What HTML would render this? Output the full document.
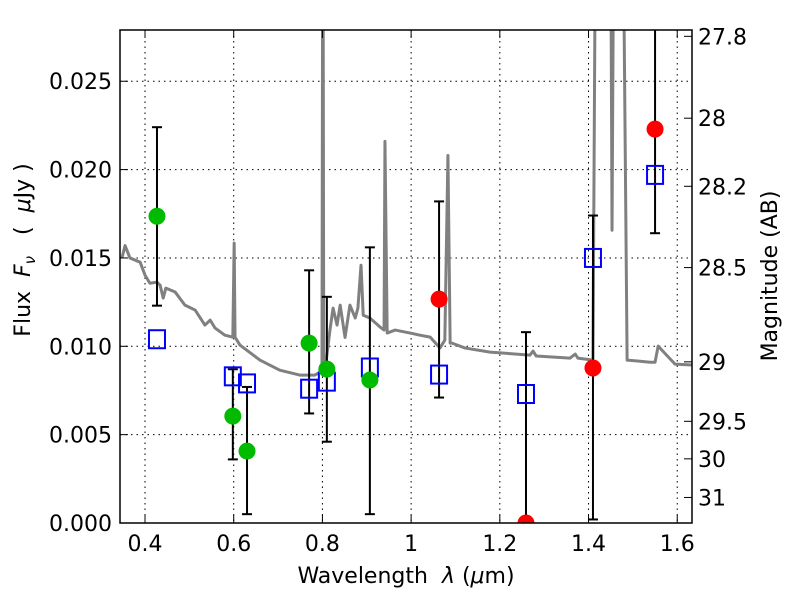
<!DOCTYPE html>
<html><head><meta charset="utf-8"><style>
body{margin:0;background:#fff;}
svg text{font-family:"DejaVu Sans","Liberation Sans",sans-serif;fill:#000;}
</style></head><body>
<svg id="chart" width="800" height="600" viewBox="0 0 800 600" xmlns="http://www.w3.org/2000/svg">
<rect width="800" height="600" fill="#fff"/>
<g id="grid"></g>
<g id="spec"></g>
<g id="marks"></g>
<rect x="120" y="30" width="572" height="493" fill="none" stroke="#000" stroke-width="1.5"/>
<g id="axes"></g>
<text x="406" y="583" font-size="22" text-anchor="middle">Wavelength&#160;&#160;<tspan font-style="italic">λ</tspan> (<tspan font-style="italic">μ</tspan>m)</text>
<text transform="translate(30,250) rotate(-90)" font-size="22" text-anchor="middle">Flux&#160;&#160;<tspan font-style="italic">F</tspan><tspan font-style="italic" font-size="15" dy="5">ν</tspan><tspan dy="-5">&#160;&#160;&#160;(&#160;&#160;</tspan><tspan font-style="italic">μ</tspan>Jy )</text>
<text transform="translate(777,276) rotate(-90)" font-size="22" text-anchor="middle">Magnitude (AB)</text>
</svg>
<script>
const xTicks=[0.4,0.6,0.8,1.0,1.2,1.4,1.6];
const xTickLabels=["0.4","0.6","0.8","1","1.2","1.4","1.6"];
const yTicks=[0,0.005,0.010,0.015,0.020,0.025];
const yTickLabels=["0.000","0.005","0.010","0.015","0.020","0.025"];
const magTicks=[27.8,28,28.2,28.5,29,29.5,30,31];
const magTickLabels=["27.8","28","28.2","28.5","29","29.5","30","31"];
const obsWave=[0.427,0.598,0.630,0.770,0.810,0.907,1.063,1.259,1.410,1.550];
const obsFlux=[0.01736,0.00605,0.00407,0.01018,0.00871,0.00809,0.01267,0.0,0.00877,0.02229];
const obsHi=[0.0224,0.0087,0.0077,0.0143,0.0128,0.0156,0.0182,0.0108,0.0174,0.035];
const obsLo=[0.0123,0.0036,0.0005,0.0062,0.0046,0.0005,0.0071,-0.001,0.0002,0.0164];
const obsColor=["#00bb00","#00bb00","#00bb00","#00bb00","#00bb00","#00bb00","#ff0000","#ff0000","#ff0000","#ff0000"];
const modelFlux=[0.0104,0.0083,0.0079,0.0076,0.0080,0.0088,0.0084,0.0073,0.0150,0.0197];
const specWave=[0.348,0.355,0.366,0.389,0.4,0.411,0.427,0.434,0.441,0.447,0.468,0.490,0.513,0.535,0.547,0.558,0.580,0.598,0.601,0.603,0.614,0.659,0.704,0.749,0.783,0.795,0.799,0.801,0.803,0.806,0.817,0.824,0.833,0.840,0.851,0.862,0.874,0.880,0.887,0.892,0.907,0.930,0.939,0.941,0.946,0.964,0.998,1.020,1.043,1.065,1.076,1.083,1.088,1.092,1.122,1.178,1.268,1.275,1.282,1.358,1.370,1.376,1.410,1.417,1.449,1.453,1.458,1.476,1.487,1.539,1.550,1.557,1.595,1.634];
const specFlux=[0.0150,0.0157,0.0150,0.01476,0.01403,0.01357,0.01363,0.01346,0.01273,0.01329,0.01307,0.01233,0.01205,0.0112,0.01148,0.01103,0.01063,0.01052,0.01584,0.01052,0.01007,0.00922,0.00865,0.00837,0.00837,0.00854,0.00854,0.04,0.00854,0.00865,0.01092,0.01216,0.0112,0.01233,0.0105,0.01233,0.0116,0.01216,0.01459,0.01176,0.0116,0.01109,0.01092,0.0216,0.01075,0.01092,0.01075,0.01063,0.01052,0.0099,0.01035,0.0208,0.01018,0.01018,0.00990,0.00967,0.0095,0.00973,0.00945,0.00933,0.00956,0.00933,0.00922,0.04,0.04,0.01657,0.04,0.04,0.00922,0.0091,0.00910,0.01001,0.00899,0.00894];
const NS="http://www.w3.org/2000/svg";
const X0=0.3436,X1=1.6333,Y0=0,Y1=0.0279,L=120,R=692,T=30,B=523;
function xs(v){return L+(v-X0)/(X1-X0)*(R-L);}
function ys(v){return B-(v-Y0)/(Y1-Y0)*(B-T);}
function magToFlux(m){return Math.pow(10,(23.9-m)/2.5);}
function mk(tag,attrs,parent){const e=document.createElementNS(NS,tag);for(const k in attrs)e.setAttribute(k,attrs[k]);parent.appendChild(e);return e;}
const grid=document.getElementById('grid'),axes=document.getElementById('axes'),spec=document.getElementById('spec'),marks=document.getElementById('marks');
xTicks.forEach((t,i)=>{const x=xs(t);
 const g=mk('line',{x1:x,x2:x,y1:T,y2:B,stroke:'#000','stroke-width':1,'stroke-dasharray':'1.5,4'},grid);
 
 
 mk('line',{x1:x,x2:x,y1:B,y2:B-8,stroke:'#000'},axes);mk('line',{x1:x,x2:x,y1:T,y2:T+8,stroke:'#000'},axes);
 const tx=mk('text',{x:x,y:B+28,'font-size':22,'text-anchor':'middle'},axes);tx.textContent=xTickLabels[i];
 
 
});
yTicks.forEach((t,i)=>{const y=ys(t);
 const g=mk('line',{x1:L,x2:R,y1:y,y2:y,stroke:'#000','stroke-width':1,'stroke-dasharray':'1.5,4'},grid);
 
 
 mk('line',{x1:L,x2:L+8,y1:y,y2:y,stroke:'#000'},axes);
 const tx=mk('text',{x:L-8,y:y+8,'font-size':22,'text-anchor':'end'},axes);tx.textContent=yTickLabels[i];
 
 
});
magTicks.forEach((m,i)=>{const y=ys(magToFlux(m));
 mk('line',{x1:R,x2:R-8,y1:y,y2:y,stroke:'#000'},axes);
 const tx=mk('text',{x:R+6,y:y+8,'font-size':22},axes);tx.textContent=magTickLabels[i];
 
 
});
const cp=mk('clipPath',{id:'clip'},document.getElementById('chart'));mk('rect',{x:L,y:T,width:R-L,height:B-T},cp);
spec.setAttribute('clip-path','url(#clip)');marks.setAttribute('clip-path','url(#clip)');
const pl=mk('polyline',{points:specWave.map((w,i)=>xs(w)+','+ys(specFlux[i])).join(' '),fill:'none',stroke:'#808080','stroke-width':3,'stroke-linejoin':'round'},spec);


obsWave.forEach((w,i)=>{const x=xs(w);
 const eb=mk('g',{},marks);
 
 
 mk('line',{x1:x,x2:x,y1:ys(obsHi[i]),y2:ys(obsLo[i]),stroke:'#000','stroke-width':2},eb);
 [obsHi[i],obsLo[i]].forEach(v=>mk('line',{x1:x-5,x2:x+5,y1:ys(v),y2:ys(v),stroke:'#000','stroke-width':2},eb));
});
obsWave.forEach((w,i)=>{
 const s=mk('rect',{x:xs(w)-8,y:ys(modelFlux[i])-9,width:16,height:18,fill:'none',stroke:'#0000ff','stroke-width':2},marks);
 
 
});
obsWave.forEach((w,i)=>{
 const c=mk('circle',{cx:xs(w),cy:ys(obsFlux[i]),r:8.5,fill:obsColor[i]},marks);
 
 
});
</script>
</body></html>
